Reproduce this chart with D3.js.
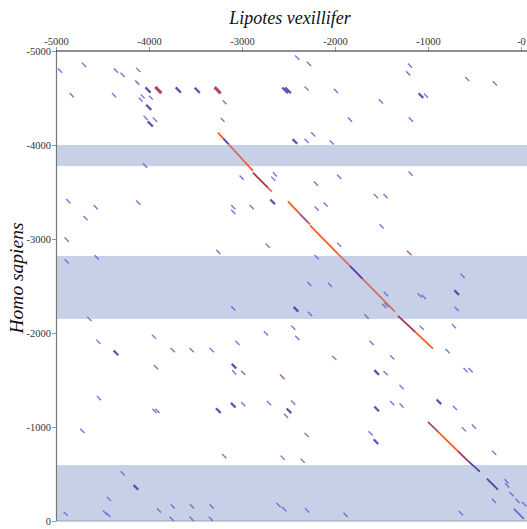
<!DOCTYPE html>
<html>
<head>
<meta charset="utf-8">
<script src="https://cdn.jsdelivr.net/npm/d3@7"></script>
<style>
  body { margin: 0; background: #fff; }
</style>
</head>
<body>
<div></div>
<script>
// ejes
var xTicks = [-5000, -4000, -3000, -2000, -1000, 0];
var xTickLabels = ["-5000", "-4000", "-3000", "-2000", "-1000", "-0"];
var yTicks = [-5000, -4000, -3000, -2000, -1000, 0];
var yTickLabels = ["-5000", "-4000", "-3000", "-2000", "-1000", "0"];

// bandas sombreadas sobre Homo sapiens [inicio, fin]
var homoBands = [[-4000, -3775], [-2820, -2150], [-595, 0]];

// alineamiento principal [lipX1, homoY1, lipX2, homoY2, identidad]
var mainDiagonal = [
    [-3258, -4131, -3202, -4070, 95],
    [-3202, -4070, -3145, -4009, 74],
    [-3145, -4009, -2976, -3826, 88],
    [-2976, -3826, -2882, -3725, 95],
    [-2882, -3705, -2719, -3545, 82],
    [-2719, -3545, -2678, -3505, 88],
    [-2506, -3400, -2376, -3265, 95],
    [-2376, -3265, -2293, -3180, 78],
    [-2293, -3180, -2269, -3155, 95],
    [-2269, -3144, -1968, -2841, 95],
    [-1968, -2841, -1840, -2713, 88],
    [-1840, -2713, -1703, -2575, 74],
    [-1703, -2575, -1356, -2227, 88],
    [-1323, -2183, -1135, -2009, 82],
    [-1135, -2009, -947, -1834, 95],
    [-1001, -1054, -893, -950, 78],
    [-893, -950, -679, -743, 95],
    [-679, -743, -571, -639, 82],
    [-571, -639, -442, -525, 74],
    [-367, -450, -248, -333, 74],
    [-76, -130, 31, -23, 70]
];

// hits cortos [centro Lipotes, centro Homo, longitud, identidad, solapados]
var shortHits = [
    [-4957, -4791, 45, 70, 1], [-4699, -4852, 45, 70, 1], [-4831, -4531, 45, 70, 1],
    [-4355, -4791, 45, 70, 1], [-4283, -4745, 45, 70, 1], [-4376, -4531, 45, 70, 1],
    [-4115, -4798, 45, 70, 1], [-4126, -4663, 45, 78, 1], [-4011, -4585, 55, 74, 2],
    [-3900, -4585, 65, 82, 3], [-3685, -4585, 55, 74, 2], [-4089, -4483, 40, 70, 1],
    [-4068, -4518, 40, 70, 1], [-3979, -4504, 40, 70, 1], [-4003, -4401, 55, 74, 2],
    [-4036, -4288, 45, 70, 1], [-3936, -4269, 45, 70, 1], [-3986, -4224, 55, 74, 2],
    [-4043, -3781, 45, 70, 1], [-4868, -3402, 45, 70, 1], [-4573, -3338, 45, 70, 1],
    [-4115, -3388, 45, 70, 1], [-4683, -3222, 45, 70, 1], [-3481, -4582, 55, 74, 2],
    [-3262, -4582, 65, 82, 3], [-3186, -4454, 40, 70, 1], [-3208, -4266, 40, 70, 1],
    [-2537, -4582, 60, 74, 2], [-2505, -4582, 60, 74, 2], [-2406, -4930, 45, 70, 1],
    [-2280, -4863, 45, 70, 1], [-2305, -4601, 45, 70, 1], [-1990, -4576, 45, 70, 1],
    [-1839, -4269, 45, 70, 1], [-2234, -4112, 45, 70, 1], [-2431, -4038, 50, 74, 2],
    [-2305, -4045, 45, 70, 1], [-2036, -4027, 45, 70, 1], [-3004, -3652, 45, 70, 1],
    [-2646, -3687, 45, 70, 1], [-2664, -3641, 45, 70, 1], [-2205, -3588, 45, 70, 1],
    [-1955, -3662, 45, 70, 1], [-2670, -3395, 50, 74, 2], [-3094, -3338, 45, 70, 1],
    [-3094, -3289, 45, 70, 1], [-2896, -3340, 45, 70, 1], [-2197, -3324, 45, 70, 1],
    [-2101, -3367, 45, 70, 1], [-1955, -2939, 45, 70, 1], [-2724, -2929, 45, 70, 1],
    [-3255, -2862, 45, 70, 1], [-2197, -2808, 45, 70, 1], [-2277, -2523, 45, 70, 1],
    [-2054, -2512, 45, 70, 1], [-3094, -2263, 45, 70, 1], [-2420, -2253, 50, 74, 2],
    [-2269, -2203, 45, 70, 1], [-2449, -2056, 45, 70, 1], [-2742, -1996, 45, 70, 1],
    [-2406, -1949, 45, 70, 1], [-3049, -1896, 45, 70, 1], [-3541, -1818, 45, 70, 1],
    [-3326, -1818, 45, 70, 1], [-2008, -1736, 45, 70, 1], [-1499, -3135, 45, 70, 1],
    [-1202, -2851, 50, 78, 1], [-628, -2608, 45, 70, 1], [-692, -2430, 50, 74, 2],
    [-1090, -2400, 45, 70, 1], [-1045, -2385, 45, 70, 1], [-1452, -2413, 45, 70, 1],
    [-692, -2256, 45, 70, 1], [-1471, -2288, 45, 70, 1], [-1445, -2300, 45, 70, 1],
    [-1660, -2174, 45, 70, 1], [-1069, -2056, 45, 70, 1], [-721, -2074, 45, 70, 1],
    [-1606, -1896, 45, 70, 1], [-1385, -1740, 45, 70, 1], [-789, -1807, 45, 70, 1],
    [-4885, -2993, 45, 70, 1], [-4885, -2761, 45, 70, 1], [-4562, -2804, 45, 70, 1],
    [-4642, -2149, 45, 70, 1], [-4545, -1907, 45, 70, 1], [-4355, -1789, 50, 74, 2],
    [-3946, -1960, 45, 70, 1], [-3745, -1818, 45, 70, 1], [-3925, -1638, 45, 70, 1],
    [-4538, -1307, 45, 70, 1], [-3941, -1172, 45, 70, 1], [-3909, -1172, 45, 70, 1],
    [-4717, -958, 45, 70, 1], [-4283, -506, 45, 70, 1], [-4140, -357, 50, 74, 2],
    [-4430, -234, 45, 70, 1], [-4896, -77, 45, 70, 1], [-4473, -90, 45, 70, 1],
    [-4438, -66, 45, 70, 1], [-3893, -112, 45, 70, 1], [-3745, -155, 45, 70, 1],
    [-3756, -23, 45, 70, 1], [-3086, -1647, 50, 74, 2], [-3084, -1580, 45, 70, 1],
    [-2987, -1576, 45, 70, 1], [-2567, -1533, 50, 78, 1], [-3094, -1232, 50, 74, 2],
    [-2987, -1243, 45, 70, 1], [-3255, -1175, 50, 74, 2], [-2710, -1254, 45, 70, 1],
    [-2449, -1260, 45, 70, 1], [-2495, -1172, 50, 74, 2], [-2527, -1118, 45, 70, 1],
    [-2305, -915, 45, 70, 1], [-3191, -691, 45, 70, 1], [-2563, -673, 45, 70, 1],
    [-2348, -641, 45, 70, 1], [-3538, -155, 45, 70, 1], [-3326, -155, 45, 70, 1],
    [-2606, -169, 45, 70, 1], [-2546, -127, 45, 70, 1], [-2299, -112, 45, 70, 1],
    [-1886, -66, 45, 70, 1], [-3541, -23, 45, 70, 1], [-3334, -23, 45, 70, 1],
    [-1552, -1580, 50, 74, 2], [-1456, -1572, 45, 70, 1], [-596, -1604, 45, 70, 1],
    [-542, -1604, 45, 70, 1], [-1284, -1425, 45, 70, 1], [-1385, -1254, 45, 70, 1],
    [-1284, -1228, 45, 70, 1], [-1552, -1193, 50, 74, 2], [-883, -1268, 50, 74, 2],
    [-711, -1204, 45, 70, 1], [-1617, -933, 45, 70, 1], [-1560, -844, 50, 74, 2],
    [-614, -976, 45, 70, 1], [-506, -1004, 45, 70, 1], [-288, -725, 45, 70, 1],
    [-155, -422, 45, 70, 1], [-149, -379, 45, 70, 1], [-101, -287, 45, 70, 1],
    [-37, -215, 45, 70, 1], [34, -180, 45, 70, 1], [-291, -215, 45, 70, 1],
    [-646, -84, 45, 70, 1], [-1194, -4844, 45, 70, 1], [-1213, -4763, 45, 78, 1],
    [-578, -4702, 45, 70, 1], [-281, -4656, 45, 70, 1], [-1076, -4526, 50, 74, 2],
    [-1022, -4526, 45, 70, 1], [-1506, -4465, 45, 70, 1], [-1184, -4269, 45, 70, 1],
    [-1187, -3696, 45, 70, 1], [-1560, -3455, 45, 70, 1], [-1456, -3455, 45, 70, 1]
];

var identityLevels = [70, 74, 78, 82, 88, 95];
var identityColors = ["#7262d2", "#5a3aa8", "#9a4a92", "#a8324e", "#d46e66", "#ff5a1c"];

var width = 527;
var height = 529;

var svg = d3.select('div')
    .append('svg')
    .attr('width', width)
    .attr('height', height)
    .style('display', 'block');

var x = d3.scaleLinear().domain([-5000, 0]).range([56, 521]);
var y = d3.scaleLinear().domain([-5000, 0]).range([51, 521]);
var color = d3.scaleOrdinal().domain(identityLevels).range(identityColors);

// bandas
svg.selectAll('rect.band')
    .data(homoBands)
    .enter()
    .append('rect')
    .attr('class', 'band')
    .attr('x', x(-5000))
    .attr('width', width - x(-5000))
    .attr('y', d => y(d[0]))
    .attr('height', d => y(d[1]) - y(d[0]))
    .attr('fill', '#c6d1e8');

// marco
svg.append('line')
    .attr('x1', x(-5000)).attr('x2', width)
    .attr('y1', y(0)).attr('y2', y(0))
    .attr('stroke', '#9aa0b0').attr('stroke-width', 1.2);
svg.append('line')
    .attr('x1', x(-5000) + 0.5).attr('x2', x(-5000) + 0.5)
    .attr('y1', y(-5000)).attr('y2', y(0))
    .attr('stroke', '#777').attr('stroke-width', 1.2);

// titulos
svg.append('text')
    .attr('x', 290)
    .attr('y', 24)
    .attr('text-anchor', 'middle')
    .style('font-family', '"Liberation Serif", serif')
    .style('font-style', 'italic')
    .style('font-size', '18px')
    .attr('fill', '#111')
    .text('Lipotes vexillifer');

svg.append('text')
    .attr('transform', 'translate(23,278) rotate(-90)')
    .attr('text-anchor', 'middle')
    .style('font-family', '"Liberation Serif", serif')
    .style('font-style', 'italic')
    .style('font-size', '19.5px')
    .attr('fill', '#111')
    .text('Homo sapiens');

// hits cortos
svg.selectAll('line.hit')
    .data(shortHits)
    .enter()
    .append('line')
    .attr('class', 'hit')
    .attr('x1', d => x(d[0] - d[2] / 2))
    .attr('y1', d => y(d[1] - d[2] / 2))
    .attr('x2', d => x(d[0] + d[2] / 2))
    .attr('y2', d => y(d[1] + d[2] / 2))
    .attr('stroke', d => color(d[3]))
    .attr('stroke-width', d => 1.4 + (d[4] - 1) * 0.9)
    .attr('stroke-opacity', 0.9);

// diagonal
svg.selectAll('line.diag')
    .data(mainDiagonal)
    .enter()
    .append('line')
    .attr('class', 'diag')
    .attr('x1', d => x(d[0]))
    .attr('y1', d => y(d[1]))
    .attr('x2', d => x(d[2]))
    .attr('y2', d => y(d[3]))
    .attr('stroke', d => color(d[4]))
    .attr('stroke-width', 1.8);

// eje X arriba
var xAxis = d3.axisTop(x)
    .tickValues(xTicks)
    .tickSize(4)
    .tickPadding(2)
    .tickFormat((d, i) => xTickLabels[i]);

var gx = svg.append('g')
    .attr('transform', 'translate(0,' + y(-5000) + ')')
    .call(xAxis);
gx.select('.domain').remove();
gx.selectAll('line').attr('stroke', '#999');
gx.selectAll('text')
    .style('font-family', '"Liberation Serif", serif')
    .style('font-size', '10.5px')
    .attr('fill', '#333');
svg.append('line')
    .attr('x1', x(-5000)).attr('x2', width)
    .attr('y1', y(-5000)).attr('y2', y(-5000))
    .attr('stroke', '#222').attr('stroke-width', 1.2);

// eje Y
var yAxis = d3.axisLeft(y)
    .tickValues(yTicks)
    .tickSize(4)
    .tickPadding(1)
    .tickFormat((d, i) => yTickLabels[i]);

var gy = svg.append('g')
    .attr('transform', 'translate(' + x(-5000) + ',0)')
    .call(yAxis);
gy.select('.domain').remove();
gy.selectAll('line').attr('stroke', '#999');
gy.selectAll('text')
    .style('font-family', '"Liberation Serif", serif')
    .style('font-size', '10.5px')
    .attr('fill', '#333');
</script>
</body>
</html>
